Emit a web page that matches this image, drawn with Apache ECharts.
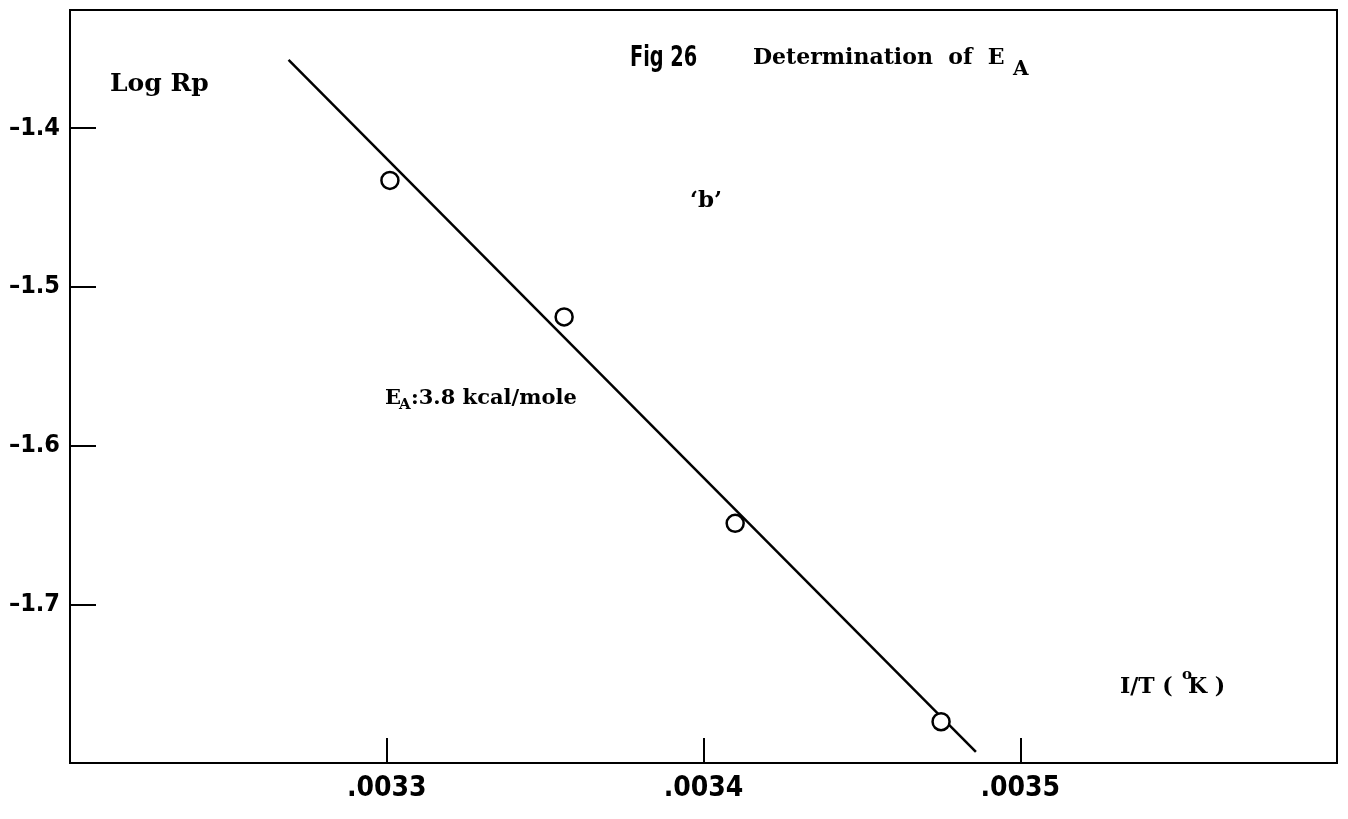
<!DOCTYPE html>
<html>
<head>
<meta charset="utf-8">
<script src="https://cdn.jsdelivr.net/npm/echarts@6/dist/echarts.min.js"></script>
<style>
html,body{margin:0;padding:0;background:#fff;}
#chart{width:1348px;height:819px;}
</style>
</head>
<body>
<div id="chart"></div>
<script>
// Data
var pointsX = [0.003301, 0.003356, 0.003410, 0.003475];
var pointsY = [-1.433, -1.519, -1.649, -1.774];
var fitX = [0.003269, 0.003486];
var fitY = [-1.357, -1.793];
var xTickLabels = ['.0033', '.0034', '.0035'];
var yTickLabels = ['–1.4', '–1.5', '–1.6', '–1.7'];

var condensed = "'Liberation Sans Narrow', 'DejaVu Sans Condensed', 'Roboto Condensed', sans-serif";
var serif = "'DejaVu Serif', 'Liberation Serif', serif";

var scatterData = pointsX.map(function (x, i) { return [x, pointsY[i]]; });
var fitData = fitX.map(function (x, i) { return [x, fitY[i]]; });

var chart = echarts.init(document.getElementById('chart'), null, {renderer: 'canvas'});
chart.setOption({
  backgroundColor: '#fff',
  animation: false,
  grid: {left: 70, right: 11, top: 10, bottom: 56, show: true, borderColor: '#000', borderWidth: 2, backgroundColor: 'transparent'},
  xAxis: {
    type: 'value', min: 0.0032, max: 0.0036, interval: 0.0001,
    axisLine: {show: true, lineStyle: {color: '#000', width: 2}},
    axisTick: {show: true, inside: true, length: 25, lineStyle: {color: '#000', width: 2}},
    splitLine: {show: false},
    axisLabel: {
      showMinLabel: false, showMaxLabel: false, margin: 12,
      color: '#000', fontFamily: condensed, fontWeight: 'bold', fontSize: 28,
      formatter: function (v) {
        var s = v.toFixed(4).replace(/^0/, '');
        return xTickLabels.indexOf(s) >= 0 ? s : '';
      }
    }
  },
  yAxis: {
    type: 'value', min: -1.8, max: -1.3256, interval: 0.1,
    axisLine: {show: true, lineStyle: {color: '#000', width: 2}},
    axisTick: {show: true, inside: true, length: 26, lineStyle: {color: '#000', width: 2}},
    splitLine: {show: false},
    axisLabel: {
      showMinLabel: false, showMaxLabel: false, margin: 10,
      color: '#000', fontFamily: condensed, fontWeight: 'bold', fontSize: 25,
      padding: [0, 0, 14, 0],
      formatter: function (v) {
        var s = '–' + Math.abs(v).toFixed(1);
        return yTickLabels.indexOf(s) >= 0 ? s : '';
      }
    }
  },
  series: [
    {
      type: 'line', data: fitData, showSymbol: false, symbol: 'none',
      lineStyle: {color: '#000', width: 2.5}, silent: true, z: 2
    },
    {
      type: 'scatter', data: scatterData, symbol: 'circle', symbolSize: 17,
      itemStyle: {color: '#fff', borderColor: '#000', borderWidth: 2.5, opacity: 1}, z: 3
    }
  ],
  graphic: [
    {type: 'text', left: 110, top: 72, style: {text: 'Log Rp', font: 'bold 25px ' + serif, fill: '#000'}},
    {type: 'text', x: 630, y: 44, scaleX: 0.74, style: {text: 'Fig 26', font: 'bold 29px ' + condensed, fill: '#000'}},
    {type: 'text', left: 753, top: 47, style: {text: 'Determination  of  E', font: 'bold 22px ' + serif, fill: '#000'}},
    {type: 'text', left: 1013, top: 60, style: {text: 'A', font: 'bold 20px ' + serif, fill: '#000'}},
    {type: 'text', left: 690, top: 190, style: {text: '‘b’', font: 'bold 23px ' + serif, fill: '#000'}},
    {type: 'text', left: 385, top: 388, style: {text: 'E', font: 'bold 21px ' + serif, fill: '#000'}},
    {type: 'text', left: 399, top: 398, style: {text: 'A', font: 'bold 15px ' + serif, fill: '#000'}},
    {type: 'text', left: 411, top: 388, style: {text: ':3.8 kcal/mole', font: 'bold 21px ' + serif, fill: '#000'}},
    {type: 'text', left: 1120, top: 676, style: {text: 'I/T (  K )', font: 'bold 22px ' + serif, fill: '#000'}},
    {type: 'text', left: 1182, top: 668, style: {text: 'o', font: 'bold 15px ' + serif, fill: '#000'}}
  ]
});
</script>
</body>
</html>
